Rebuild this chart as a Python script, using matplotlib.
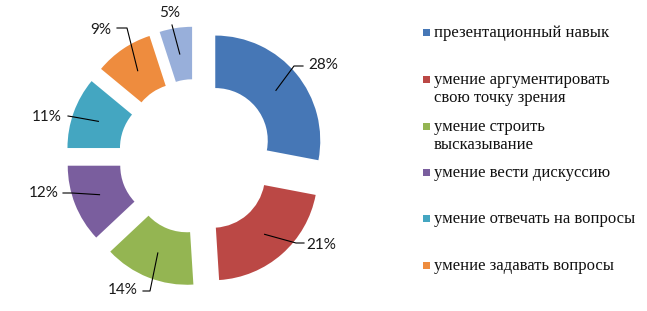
import numpy as np
import matplotlib.pyplot as plt
from matplotlib.patches import Rectangle

# данные диаграммы
values = [28, 21, 14, 12, 11, 9, 5]
names = ['презентационный навык',
         'умение аргументировать\nсвою точку зрения',
         'умение строить\nвысказывание',
         'умение вести дискуссию',
         'умение отвечать на вопросы',
         'умение задавать вопросы']
colors = ['#4677B6', '#BB4845', '#94B552', '#7A5E9E', '#44A6C1', '#EE8C3E', '#98AFDA']

W, H = 647, 311
# layout in picture pixels (y from top)
CENTER = (196, 156.5)
R_OUT, R_IN, EXPL = 105, 52.5, 25

label_xy = [(323, 65), (321, 245), (123, 290), (44, 193), (47, 117), (101, 30), (170, 13)]
elbow_xy = [(294, 66), (296, 243), (150, 291), (72, 193), (74, 117), (127, 28), (172, 25)]
end_xy = [(303, 66), (304, 243), (143, 291), (63, 193), (68, 116), (117, 28), (172, 25)]
legend_y = [32, 79, 126, 172, 218, 265]

fig = plt.figure(figsize=(6.47, 3.11), dpi=100)
ax = fig.add_axes([0, 0, 1, 1])

wedges, _ = ax.pie(values, colors=colors, startangle=90, counterclock=False,
                   center=(CENTER[0], H - CENTER[1]), radius=R_OUT,
                   explode=[EXPL] * len(values),
                   wedgeprops=dict(width=R_OUT - R_IN, linewidth=0))

# подписи с выносками
for w, v, (tx, ty), (ex, ey), (fx, fy) in zip(wedges, values, label_xy, elbow_xy, end_xy):
    th = np.radians((w.theta1 + w.theta2) / 2)
    cx, cy = w.center
    rm = w.r - w.width / 2
    ax.plot([cx + rm * np.cos(th), ex, fx], [cy + rm * np.sin(th), H - ey, H - fy],
            color='black', lw=0.8)
    ax.text(tx, H - ty, f'{v}%', ha='center', va='center', fontsize=11,
            family='Lato', color='#1a1a1a')

# легенда
for name, c, y in zip(names, colors, legend_y):
    ax.add_patch(Rectangle((423, H - y - 3.5), 7, 7, color=c, lw=0))
    ax.text(434, H - y + 7, name, ha='left', va='top', fontsize=12,
            family='Liberation Serif', color='#111111', linespacing=1.15)

ax.set_xlim(0, W)
ax.set_ylim(0, H)
ax.set_aspect('equal')
ax.axis('off')

plt.savefig('out.png', dpi=100)
